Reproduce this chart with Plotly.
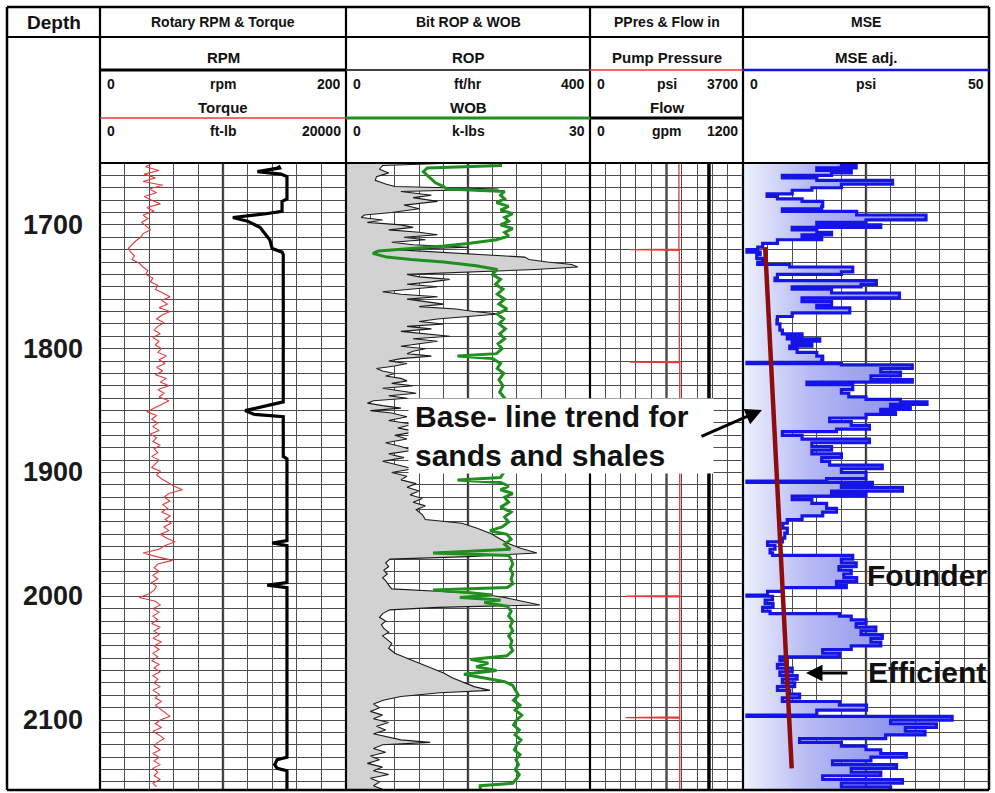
import plotly.graph_objects as go

W, H = 995, 793

# ---------------- depth scale ----------------
DEPTH_TOP, DEPTH_BOT = 1650, 2156.5
depth_labels = [1700, 1800, 1900, 2000, 2100]

# ---------------- Track 1: rotary RPM & torque ----------------
rpm_depth = [1652, 1654, 1657, 1659, 1661, 1679, 1681, 1689, 1691, 1694, 1697, 1702, 1712, 1719,
             1722, 1724, 1843, 1846, 1850, 1853, 1855, 1887, 1889, 1955, 1957, 1959, 1989, 1991,
             1993, 2130, 2132, 2136, 2139, 2141, 2157]
rpm = [145, 146, 128, 147, 152, 152, 148, 148, 135, 108, 120, 130, 138, 140,
       148, 149, 149, 135, 118, 125, 149, 149, 152, 152, 140, 152, 152, 136,
       152, 152, 144, 142, 144, 152, 152]

torque_depth = [1650, 1653, 1656, 1659, 1662, 1665, 1668, 1671, 1674, 1677, 1680, 1683, 1686, 1689,
                1692, 1695, 1698, 1701, 1704, 1707, 1710, 1713, 1716, 1719, 1722, 1725, 1728, 1731,
                1734, 1737, 1740, 1743, 1746, 1749, 1752, 1755, 1758, 1761, 1764, 1767, 1770, 1773,
                1776, 1779, 1782, 1785, 1788, 1791, 1794, 1797, 1800, 1803, 1806, 1809, 1812, 1815,
                1818, 1821, 1824, 1827, 1830, 1833, 1836, 1839, 1842, 1845, 1848, 1851, 1854, 1857,
                1860, 1863, 1866, 1869, 1872, 1875, 1878, 1881, 1884, 1887, 1890, 1893, 1896, 1899,
                1902, 1905, 1908, 1911, 1914, 1917, 1920, 1923, 1926, 1929, 1932, 1935, 1938, 1941,
                1944, 1947, 1950, 1953, 1956, 1959, 1962, 1965, 1968, 1971, 1974, 1977, 1980, 1983,
                1986, 1989, 1992, 1995, 1998, 2001, 2004, 2007, 2010, 2013, 2016, 2019, 2022, 2025,
                2028, 2031, 2034, 2037, 2040, 2043, 2046, 2049, 2052, 2055, 2058, 2061, 2064, 2067,
                2070, 2073, 2076, 2079, 2082, 2085, 2088, 2091, 2094, 2097, 2100, 2103, 2106, 2109,
                2112, 2115, 2118, 2121, 2124, 2127, 2130, 2133, 2136, 2139, 2142, 2145, 2148, 2151,
                2154]
torque = [4300, 3700, 4800, 3600, 4500, 3500, 5100, 4000, 4600, 3600, 4200, 4900, 3800, 4400,
          3500, 3900, 3400, 3800, 4100, 3500, 3300, 2900, 2600, 2300, 2500, 2800, 2600, 3200,
          3500, 3900, 3700, 4300, 4100, 4700, 4500, 5100, 5700, 5000, 5500, 4800, 5700, 5000,
          4600, 5200, 4700, 4400, 4900, 4300, 4800, 4500, 5000, 4700, 5400, 4800, 5300, 4600,
          5100, 4500, 5400, 4900, 5600, 4700, 5200, 4800, 5600, 5000, 4400, 3800, 4600, 4200,
          4700, 4300, 4800, 4100, 4600, 4300, 4900, 4400, 4700, 4200, 4800, 4500, 4200, 4900,
          4600, 5000, 5500, 6000, 6700, 5600, 5200, 5700, 5100, 5500, 5000, 5700, 5300, 5800,
          5200, 5600, 4900, 5400, 6100, 5300, 4800, 3500, 4600, 5900, 4700, 4400, 4800, 4300,
          4700, 4200, 4600, 4400, 4000, 3200, 4500, 4900, 4300, 4800, 4300, 4700, 4200, 4900,
          4400, 4800, 4300, 5000, 4400, 4800, 4300, 4700, 4200, 4800, 4400, 4900, 4300, 4700,
          4400, 4900, 4300, 4800, 4500, 5000, 4500, 4900, 5300, 5700, 4900, 4500, 5000, 4300,
          4800, 5200, 4700, 4400, 4900, 4300, 4800, 4400, 4900, 4300, 4700, 4400, 4900, 4300,
          4600]

# ---------------- Track 2: bit ROP & WOB ----------------
rop_depth = [1650, 1652, 1655, 1658, 1661, 1664, 1667, 1669, 1671, 1673, 1676, 1678, 1681, 1684,
             1687, 1690, 1692, 1694, 1696, 1698, 1700, 1702, 1704, 1706, 1708, 1710, 1712, 1714,
             1716, 1718, 1720, 1722, 1724, 1726, 1728, 1730, 1732, 1734, 1736, 1738, 1740, 1742,
             1744, 1746, 1748, 1750, 1752, 1754, 1756, 1758, 1760, 1762, 1764, 1766, 1768, 1770,
             1772, 1774, 1776, 1778, 1780, 1782, 1784, 1786, 1788, 1790, 1792, 1794, 1796, 1798,
             1800, 1802, 1804, 1806, 1808, 1810, 1812, 1814, 1816, 1818, 1820, 1822, 1824, 1826,
             1828, 1830, 1832, 1834, 1836, 1838, 1840, 1842, 1844, 1846, 1848, 1850, 1852, 1855,
             1858, 1861, 1864, 1867, 1870, 1873, 1876, 1879, 1882, 1885, 1888, 1891, 1894, 1897,
             1900, 1903, 1906, 1909, 1912, 1915, 1918, 1921, 1924, 1927, 1930, 1934, 1938, 1941,
             1945, 1949, 1953, 1957, 1961, 1965, 1968, 1970, 1973, 1976, 1979, 1982, 1985, 1988,
             1991, 1994, 1996, 1998, 2001, 2004, 2007, 2009, 2011, 2014, 2017, 2020, 2023, 2026,
             2029, 2032, 2035, 2038, 2042, 2046, 2050, 2054, 2058, 2062, 2066, 2070, 2073, 2076,
             2078, 2081, 2084, 2087, 2090, 2093, 2096, 2099, 2102, 2105, 2108, 2111, 2114, 2116,
             2118, 2120, 2123, 2126, 2129, 2132, 2135, 2138, 2141, 2144, 2147, 2150, 2153, 2156]
rop = [180, 60, 55, 70, 50, 48, 65, 80, 250, 90, 140, 110, 150, 95,
       120, 75, 30, 25, 60, 35, 90, 110, 70, 120, 150, 95, 130, 75,
       110, 200, 80, 150, 240, 293, 300, 330, 370, 380, 310, 200, 100, 120,
       170, 140, 100, 150, 110, 60, 90, 150, 100, 130, 160, 120, 180, 210,
       250, 200, 150, 120, 160, 100, 140, 90, 130, 170, 110, 150, 120, 90,
       130, 110, 100, 140, 90, 70, 100, 80, 50, 60, 80, 65, 90, 100,
       75, 110, 60, 90, 115, 70, 100, 45, 35, 60, 90, 40, 75, 100,
       70, 110, 85, 115, 80, 100, 65, 90, 110, 70, 95, 60, 85, 110,
       75, 100, 90, 115, 100, 120, 105, 125, 110, 130, 115, 125, 130, 190,
       215, 236, 250, 264, 285, 313, 200, 72, 65, 70, 62, 68, 60, 66,
       70, 75, 150, 220, 260, 290, 318, 150, 72, 60, 55, 65, 58, 62,
       70, 60, 68, 75, 70, 80, 100, 120, 140, 160, 175, 195, 210, 236,
       154, 90, 61, 45, 55, 40, 60, 45, 70, 50, 65, 45, 70, 90,
       138, 60, 45, 65, 40, 55, 35, 60, 45, 70, 40, 55, 45, 60]

wob_depth = [1650, 1652, 1654, 1657, 1660, 1663, 1666, 1669, 1671, 1673, 1676, 1679, 1682, 1685,
             1688, 1691, 1694, 1697, 1700, 1703, 1706, 1709, 1712, 1715, 1717, 1719, 1721, 1723,
             1726, 1728, 1730, 1733, 1736, 1740, 1744, 1748, 1752, 1756, 1760, 1764, 1768, 1772,
             1776, 1780, 1784, 1788, 1792, 1796, 1800, 1804, 1806, 1808, 1812, 1816, 1820, 1825,
             1830, 1835, 1840, 1845, 1850, 1855, 1860, 1865, 1870, 1875, 1880, 1885, 1890, 1895,
             1900, 1904, 1906, 1908, 1911, 1914, 1917, 1920, 1924, 1928, 1932, 1936, 1940, 1944,
             1947, 1950, 1954, 1958, 1962, 1964, 1965, 1967, 1970, 1974, 1978, 1982, 1986, 1990,
             1993, 1995, 1997, 1999, 2001, 2003, 2005, 2008, 2012, 2016, 2020, 2024, 2028, 2032,
             2036, 2040, 2044, 2048, 2051, 2054, 2057, 2060, 2063, 2066, 2069, 2072, 2076, 2080,
             2084, 2088, 2092, 2096, 2100, 2104, 2108, 2112, 2116, 2120, 2124, 2128, 2132, 2136,
             2140, 2144, 2148, 2151, 2153, 2157]
wob = [19.0, 19.0, 10.0, 9.5, 10.0, 10.5, 11.0, 12.0, 12.4, 19.5, 19.0, 19.5, 18.5, 20.0,
       19.0, 20.5, 19.5, 20.0, 19.0, 20.5, 19.5, 20.0, 18.5, 15.0, 12.0, 8.0, 4.0, 3.3,
       5.0, 8.0, 12.0, 16.0, 18.6, 18.0, 19.0, 18.4, 19.3, 18.6, 19.5, 18.8, 19.8, 18.6,
       19.4, 18.8, 19.6, 18.9, 19.5, 18.7, 19.2, 18.5, 13.7, 18.0, 19.0, 18.6, 19.4, 18.8,
       19.3, 18.9, 19.5, 18.7, 19.2, 18.9, 19.3, 18.8, 19.4, 19.0, 19.2, 18.9, 19.3, 19.0,
       19.4, 19.0, 13.7, 19.0, 20.0, 19.0, 20.5, 19.5, 20.0, 19.0, 20.3, 19.5, 20.0, 19.2,
       17.7, 19.8, 20.3, 19.5, 20.2, 14.0, 10.7, 20.0, 20.3, 20.5, 20.2, 20.5, 20.3, 20.5,
       19.8, 10.7, 15.0, 18.0, 14.0, 19.0, 17.0, 19.8, 20.3, 20.0, 20.5, 20.2, 20.5, 20.0,
       20.4, 20.2, 20.5, 19.8, 15.3, 17.5, 16.0, 18.5, 14.5, 17.0, 19.5, 20.5, 20.8, 21.2,
       20.6, 21.4, 20.8, 21.6, 21.0, 20.6, 21.3, 20.8, 21.5, 21.0, 20.7, 21.4, 20.9, 21.2,
       20.8, 21.3, 20.9, 20.5, 16.5, 16.5]

# ---------------- Track 3: pump pressure & flow in ----------------
pp_depth = [1650, 1719.5, 1720, 1720.5, 1810.3, 1810.8, 1811.3, 1999.5, 2000, 2000.5,
            2097.5, 2098, 2098.5, 2157]
pump_pressure = [2150, 2150, 960, 2160, 2160, 960, 2170, 2170, 880, 2170,
                 2170, 860, 2170, 2170]

flow_depth = [1650, 2157]
flow = [933, 933]

# ---------------- Track 4: MSE ----------------
mse_depth = [1650, 1652, 1654, 1656, 1658, 1660, 1662, 1664, 1667, 1670, 1672, 1675, 1677, 1679,
             1681, 1685, 1687, 1689, 1692, 1696, 1698, 1700, 1702, 1704, 1706, 1708, 1710, 1712,
             1715, 1718, 1720, 1722, 1724, 1727, 1730, 1732, 1734, 1738, 1740, 1743, 1745, 1748,
             1750, 1752, 1755, 1759, 1762, 1765, 1767, 1771, 1774, 1777, 1780, 1785, 1788, 1790,
             1792, 1794, 1796, 1798, 1800, 1803, 1806, 1809, 1811, 1812, 1813, 1816, 1819, 1822,
             1825, 1827, 1829, 1833, 1836, 1839, 1841, 1843, 1845, 1847, 1849, 1851, 1853, 1856,
             1859, 1862, 1865, 1867, 1870, 1873, 1876, 1879, 1882, 1885, 1888, 1891, 1894, 1897,
             1900, 1905, 1907, 1908, 1910, 1912, 1915, 1917, 1919, 1922, 1925, 1929, 1932, 1935,
             1938, 1941, 1945, 1949, 1953, 1956, 1959, 1962, 1965, 1967, 1970, 1973, 1976, 1979,
             1982, 1985, 1988, 1991, 1993, 1996, 1999, 2000, 2003, 2006, 2009, 2012, 2014, 2016,
             2019, 2022, 2025, 2028, 2031, 2034, 2037, 2040, 2043, 2046, 2049, 2052, 2055, 2058,
             2061, 2064, 2067, 2070, 2073, 2076, 2079, 2082, 2085, 2088, 2092, 2096, 2097, 2100,
             2103, 2106, 2109, 2112, 2115, 2118, 2121, 2124, 2127, 2130, 2133, 2136, 2139, 2142,
             2145, 2148, 2151, 2154, 2157]
mse = [20.0, 23.0, 15.0, 22.0, 18.0, 8.0, 15.0, 30.4, 20.0, 14.0, 10.0, 4.9, 7.0, 12.0,
       16.2, 16.0, 8.0, 23.1, 37.2, 25.0, 15.0, 28.0, 10.0, 15.0, 18.0, 12.0, 16.0, 7.0,
       4.0, 3.0, 0.8, 3.5, 2.8, 4.0, 3.0, 9.5, 22.3, 20.0, 7.0, 6.5, 27.1, 24.0,
       10.0, 18.0, 31.8, 12.0, 18.0, 15.0, 21.7, 10.0, 7.0, 6.9, 7.5, 8.0, 12.0, 9.0,
       15.6, 10.0, 14.0, 9.5, 11.0, 15.0, 16.2, 16.0, 0.8, 20.0, 34.4, 28.0, 32.0, 26.0,
       34.4, 13.0, 22.3, 20.0, 21.5, 25.0, 32.0, 37.4, 30.0, 34.0, 28.0, 31.0, 25.0, 17.6,
       22.0, 25.7, 19.0, 8.0, 12.0, 25.7, 14.0, 18.0, 14.0, 20.0, 16.0, 17.6, 28.3, 20.0,
       25.0, 17.0, 0.8, 26.3, 20.0, 32.4, 18.0, 25.0, 10.0, 14.0, 17.0, 19.0, 16.2, 12.0,
       9.0, 8.1, 9.0, 8.5, 8.0, 5.0, 6.5, 5.5, 6.0, 22.3, 20.0, 23.0, 19.5, 22.0,
       20.5, 23.1, 19.0, 21.0, 8.0, 5.0, 0.8, 6.0, 4.5, 6.1, 4.0, 5.5, 19.6, 22.0,
       25.0, 23.0, 27.0, 24.0, 28.3, 26.0, 28.0, 22.0, 16.2, 19.6, 7.5, 9.0, 7.0, 10.0,
       7.5, 11.0, 8.0, 10.5, 7.0, 9.5, 11.5, 8.0, 19.6, 25.1, 15.0, 0.8, 42.5, 30.0,
       39.3, 33.0, 37.0, 29.0, 11.5, 20.0, 25.0, 28.0, 33.2, 26.0, 18.2, 31.2, 22.0, 28.0,
       16.2, 32.4, 20.0, 30.0, 25.0]

# base-line MSE trend for sands and shales
trend_depth = [1718, 2139]
trend_mse = [4.5, 9.9]

# ---------------- layout geometry (pixels) ----------------
FRAME_L, FRAME_R, FRAME_T, FRAME_B = 7, 989, 7, 790
DEPTH_R = 100
TRACKS = [(100, 346), (346, 590), (590, 743), (743, 989)]
ROW1_B, ROW2_B, SUB_LINE, DATA_T = 37, 70, 118, 163

GRID = "#4d4d4d"
FONT = "Liberation Sans, Arial, sans-serif"


def px(x):
    return x / W


def py(y):
    return 1 - y / H


y_dom = [py(FRAME_B), py(DATA_T)]

fig = go.Figure()

# Track 1
fig.add_trace(go.Scatter(x=rpm, y=rpm_depth, xaxis="x", yaxis="y", mode="lines",
                         line=dict(color="black", width=3.2), name="RPM"))
fig.add_trace(go.Scatter(x=torque, y=torque_depth, xaxis="x2", yaxis="y", mode="lines",
                         line=dict(color="#e23a3a", width=1.1), name="Torque"))
# Track 2
fig.add_trace(go.Scatter(x=rop, y=rop_depth, xaxis="x3", yaxis="y", mode="lines",
                         fill="tozerox", fillcolor="#d2d2d2",
                         line=dict(color="#1a1a1a", width=1.1), name="ROP"))
fig.add_trace(go.Scatter(x=wob, y=wob_depth, xaxis="x4", yaxis="y", mode="lines",
                         line=dict(color="#1f8f1f", width=3), name="WOB"))
# Track 3
fig.add_trace(go.Scatter(x=pump_pressure, y=pp_depth, xaxis="x5", yaxis="y", mode="lines",
                         line=dict(color="#e23a3a", width=1.3), name="Pump Pressure"))
fig.add_trace(go.Scatter(x=flow, y=flow_depth, xaxis="x6", yaxis="y", mode="lines",
                         line=dict(color="black", width=3.5), name="Flow"))
# Track 4: stepped MSE log with a horizontal gradient fill to zero
fig.add_trace(go.Scatter(x=mse, y=mse_depth, xaxis="x7", yaxis="y", mode="lines",
                         line=dict(color="#1414e6", width=3.2, shape="vh"),
                         fill="tozerox",
                         fillgradient=dict(type="horizontal", start=0, stop=40,
                                           colorscale=[[0, "rgb(240,241,254)"],
                                                       [0.12, "rgb(218,221,250)"],
                                                       [0.35, "rgb(180,184,243)"],
                                                       [1, "rgb(122,128,233)"]]),
                         name="MSE adj."))
fig.add_trace(go.Scatter(x=trend_mse, y=trend_depth, xaxis="x7", yaxis="y", mode="lines",
                         line=dict(color="#8e0c0c", width=4.5), name="Trend"))


def track_axis(dom, rng, n=10):
    return dict(domain=[px(dom[0]), px(dom[1])], range=rng, anchor="y",
                showgrid=True, gridcolor=GRID, gridwidth=1.3, dtick=(rng[1] - rng[0]) / n,
                tick0=0, showticklabels=False, ticks="", zeroline=False, showline=False,
                fixedrange=True)


def overlay_axis(over, rng):
    return dict(overlaying=over, range=rng, anchor="y", visible=False, showgrid=False,
                zeroline=False, fixedrange=True)


fig.update_layout(
    width=W, height=H,
    margin=dict(l=0, r=0, t=0, b=0),
    paper_bgcolor="white", plot_bgcolor="white",
    showlegend=False,
    xaxis=track_axis(TRACKS[0], [0, 200]),
    xaxis2=overlay_axis("x", [0, 20000]),
    xaxis3=track_axis(TRACKS[1], [0, 400]),
    xaxis4=overlay_axis("x3", [0, 30]),
    xaxis5=track_axis(TRACKS[2], [0, 3700]),
    xaxis6=overlay_axis("x5", [0, 1200]),
    xaxis7=track_axis(TRACKS[3], [0, 50]),
    yaxis=dict(domain=y_dom, range=[DEPTH_BOT, DEPTH_TOP], anchor="x", showgrid=True,
               gridcolor=GRID, gridwidth=1.2, dtick=10, tick0=1650, showticklabels=False,
               ticks="", zeroline=False, showline=False, fixedrange=True),
)

shapes = []


def seg(x0, y0, x1, y1, color="black", width=2):
    shapes.append(dict(type="line", xref="paper", yref="paper", x0=px(x0), y0=py(y0),
                       x1=px(x1), y1=py(y1), line=dict(color=color, width=width), layer="above"))


# heavier centre line in each track
for axname, mid in [("x", 100), ("x3", 200), ("x5", 1850), ("x7", 25)]:
    shapes.append(dict(type="line", xref=axname, yref="paper", x0=mid, x1=mid,
                       y0=py(FRAME_B), y1=py(DATA_T), line=dict(color="#333333", width=2.3),
                       layer="between"))

# outer frame and column separators
seg(FRAME_L, FRAME_T, FRAME_R, FRAME_T, width=2.5)
seg(FRAME_L, FRAME_B, FRAME_R, FRAME_B, width=2.5)
seg(FRAME_L, FRAME_T, FRAME_L, FRAME_B, width=2.5)
seg(FRAME_R, FRAME_T, FRAME_R, FRAME_B, width=2.5)
for x in [DEPTH_R, 346, 590, 743]:
    seg(x, FRAME_T, x, FRAME_B, width=2.2)
seg(FRAME_L, ROW1_B, FRAME_R, ROW1_B, width=2.2)
seg(DEPTH_R, DATA_T, FRAME_R, DATA_T, width=2.2)

# curve-coloured separator lines in the headers
seg(100, ROW2_B, 346, ROW2_B, color="black", width=3)
seg(346, ROW2_B, 590, ROW2_B, color="#404040", width=2)
seg(590, ROW2_B, 743, ROW2_B, color="#e23a3a", width=1.6)
seg(743, ROW2_B, 989, ROW2_B, color="#1414e6", width=2.4)
seg(100, SUB_LINE, 346, SUB_LINE, color="#e23a3a", width=1.6)
seg(346, SUB_LINE, 590, SUB_LINE, color="#1f8f1f", width=3)
seg(590, SUB_LINE, 743, SUB_LINE, color="black", width=3)

fig.update_layout(shapes=shapes)

ann = []


def txt(x, y, s, size=14, xanchor="center", color="#111111"):
    ann.append(dict(x=px(x), y=py(y), xref="paper", yref="paper", text=f"<b>{s}</b>",
                    showarrow=False, xanchor=xanchor, yanchor="middle",
                    font=dict(family=FONT, size=size, color=color)))


# header row 1
txt(54, 22, "Depth", size=19)
titles = ["Rotary RPM &amp; Torque", "Bit ROP &amp; WOB", "PPres &amp; Flow in", "MSE"]
for (a, b), t in zip(TRACKS, titles):
    txt((a + b) / 2, 22, t, size=14)

# curve names, scales and units
curves1 = ["RPM", "ROP", "Pump Pressure", "MSE adj."]
scale1 = [("0", "rpm", "200"), ("0", "ft/hr", "400"), ("0", "psi", "3700"), ("0", "psi", "50")]
curves2 = ["Torque", "WOB", "Flow", None]
scale2 = [("0", "ft-lb", "20000"), ("0", "k-lbs", "30"), ("0", "gpm", "1200"), None]
for i, (a, b) in enumerate(TRACKS):
    mid = (a + b) / 2
    txt(mid, 58, curves1[i], size=15)
    lo, unit, hi = scale1[i]
    txt(a + 5, 84, lo, size=14, xanchor="left")
    txt(mid, 84, unit, size=14)
    txt(b - 3, 84, hi, size=14, xanchor="right")
    if curves2[i]:
        txt(mid, 107, curves2[i], size=15)
        lo, unit, hi = scale2[i]
        txt(a + 5, 131, lo, size=14, xanchor="left")
        txt(mid, 131, unit, size=14)
        txt(b - 3, 131, hi, size=14, xanchor="right")

# depth labels on the depth scale
for d in depth_labels:
    ann.append(dict(x=px(53), y=d, xref="paper", yref="y", text=f"<b>{d}</b>",
                    showarrow=False, xanchor="center", yanchor="middle",
                    font=dict(family=FONT, size=27, color="#1a1a1a")))

# call-outs
ann.append(dict(x=px(408), y=py(398), xref="paper", yref="paper",
                text="<b>Base- line trend for<br>sands and shales</b>",
                showarrow=False, xanchor="left", yanchor="top", align="left",
                width=292, height=62, valign="middle", bgcolor="white", borderpad=6,
                font=dict(family=FONT, size=30, color="#111111")))
ann.append(dict(x=px(762), y=py(410), xref="paper", yref="paper", text="",
                showarrow=True, ax=-62, ay=27, arrowhead=2, arrowsize=1.1, arrowwidth=3,
                arrowcolor="black"))
txt(927, 575, "Founder", size=30)
txt(927, 672, "Efficient", size=30)
ann.append(dict(x=px(806), y=py(673), xref="paper", yref="paper", text="",
                showarrow=True, ax=43, ay=0, arrowhead=2, arrowsize=1.1, arrowwidth=3,
                arrowcolor="black"))

fig.update_layout(annotations=ann)

fig.write_html("out.html")
